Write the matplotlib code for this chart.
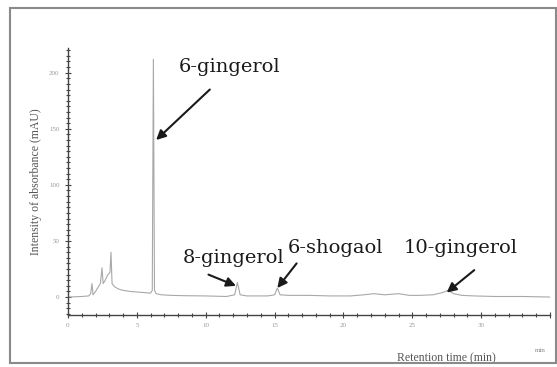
import matplotlib
matplotlib.use("Agg")
import matplotlib.pyplot as plt
from matplotlib.patches import Rectangle
from matplotlib.ticker import MultipleLocator

# Chromatogram trace (time in min, intensity in mAU)
time_min = [0.0, 1.0, 1.5, 1.65, 1.74, 1.82, 2.0, 2.2, 2.35, 2.47, 2.55, 2.7, 2.9,
            3.05, 3.12, 3.2, 3.4, 3.7, 4.0, 4.5, 5.0, 5.5, 6.0, 6.12, 6.2, 6.28,
            6.4, 6.8, 7.5, 8.5, 10.0, 11.5, 12.1, 12.3, 12.5, 13.0, 14.5, 15.0,
            15.2, 15.4, 16.0, 17.5, 19.0, 20.5, 21.5, 22.2, 23.0, 24.0, 24.8,
            25.5, 26.5, 27.2, 27.6, 28.0, 28.6, 29.5, 31.0, 33.0, 35.0]
intensity = [0.0, 0.5, 1.0, 3.0, 12.0, 2.0, 5.0, 9.0, 12.0, 26.0, 12.0, 15.0, 20.0,
             22.0, 40.0, 12.0, 9.0, 7.0, 6.0, 5.0, 4.5, 4.0, 3.5, 6.0, 212.0, 6.0,
             3.0, 2.0, 1.5, 1.2, 1.0, 0.5, 2.0, 13.0, 2.0, 1.0, 1.0, 2.0,
             8.0, 2.0, 1.5, 1.5, 1.0, 1.0, 2.0, 3.0, 2.0, 3.0, 1.5,
             1.5, 2.0, 4.0, 6.0, 3.0, 1.5, 1.0, 0.5, 0.5, 0.0]

# Peak annotations: label, peak time, peak height
peak_labels = ["6-gingerol", "8-gingerol", "6-shogaol", "10-gingerol"]
peak_times = [6.4, 12.2, 15.2, 27.5]
peak_heights = [140.0, 10.0, 8.0, 4.0]
label_times = [11.7, 12.0, 19.4, 28.5]
label_heights = [205.0, 35.0, 44.0, 44.0]

x_ticks = [0, 5, 10, 15, 20, 25, 30, 35]
x_tick_labels = ["0", "5", "10", "15", "20", "25", "30", ""]
y_ticks = [0, 50, 100, 150, 200]
y_tick_labels = ["0", "50", "100", "150", "200"]

W, H = 557, 367
fig = plt.figure(figsize=(W / 100, H / 100), dpi=100)
fig.patch.set_facecolor("white")

# outer frame
fig.patches.append(Rectangle((10 / W, 1 - 363 / H), (556 - 10) / W, (363 - 8) / H,
                             transform=fig.transFigure, fill=False,
                             edgecolor="#8a8a8a", linewidth=1.5))

ax = fig.add_axes([68 / W, 1 - 315 / H, (550 - 68) / W, (315 - 48) / H])
ax.plot(time_min, intensity, color="#a8a8a8", linewidth=0.8)
ax.set_xlim(0, 35)
ax.set_ylim(-16, 222)

for s in ["top", "right"]:
    ax.spines[s].set_visible(False)
for s in ["left", "bottom"]:
    ax.spines[s].set_color("#444444")
    ax.spines[s].set_linewidth(1.0)

ax.set_xticks(x_ticks)
ax.set_xticklabels(x_tick_labels)
ax.set_yticks(y_ticks)
ax.set_yticklabels(y_tick_labels)
ax.xaxis.set_minor_locator(MultipleLocator(1))
ax.yaxis.set_minor_locator(MultipleLocator(5))
ax.tick_params(which="major", direction="inout", length=4, width=0.8,
               color="#444444", labelsize=5, labelcolor="#9a9a9a", pad=4)
ax.tick_params(which="minor", direction="inout", length=2.5, width=0.8,
               color="#444444")
for lab in ax.get_xticklabels() + ax.get_yticklabels():
    lab.set_family("Liberation Serif")

ax.set_ylabel("Intensity of absorbance (mAU)", family="Liberation Serif",
              fontsize=8.5, color="#555555", labelpad=5)
ax.set_xlabel("Retention time (min)", family="Liberation Serif", fontsize=8.5,
              color="#555555")
ax.xaxis.set_label_coords(0.786, -0.14)

fig.text(540 / W, 1 - 351 / H, "min", family="Liberation Serif", fontsize=5,
         color="#888888", ha="center", va="center")

for lab, pt, ph, lt, lh in zip(peak_labels, peak_times, peak_heights,
                               label_times, label_heights):
    ax.text(lt, lh, lab, family="DejaVu Serif", fontsize=14, color="#1a1a1a",
            ha="center", va="center")

arrow_starts = [(10.3, 185.0), (10.2, 20.0), (16.6, 30.0), (29.5, 24.0)]
for (sx, sy), pt, ph in zip(arrow_starts, peak_times, peak_heights):
    ax.annotate("", xy=(pt, ph), xytext=(sx, sy),
                arrowprops=dict(arrowstyle="-|>", color="#1a1a1a", lw=1.5,
                                mutation_scale=14, shrinkA=0, shrinkB=0))

fig.savefig("out.png", dpi=100, facecolor="white")
